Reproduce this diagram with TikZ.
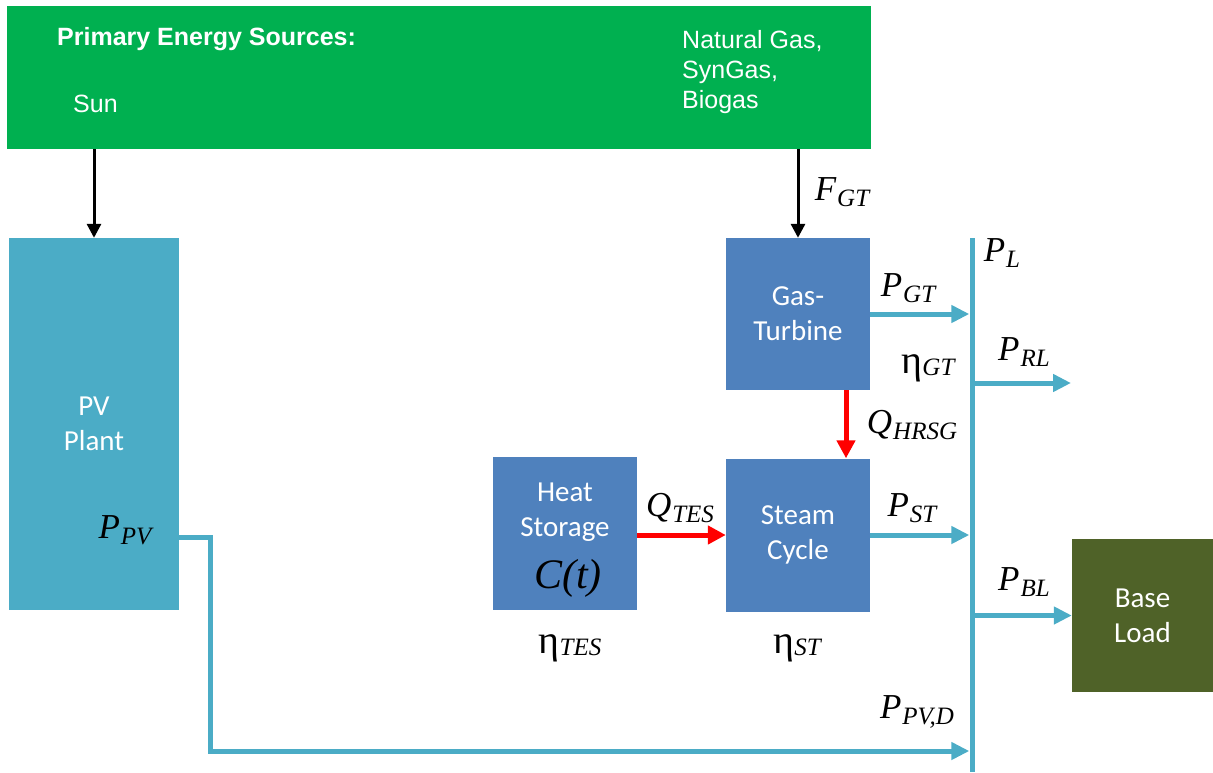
\documentclass[tikz,border=0pt]{standalone}
\usepackage{fontspec}
\setmainfont{Carlito}
\newfontfamily\arialfont{Liberation Sans}
\newfontfamily\symfont{Liberation Serif}
\usetikzlibrary{arrows.meta}

\definecolor{srcgreen}{HTML}{00B050}
\definecolor{pvcyan}{HTML}{4BACC6}
\definecolor{unitblue}{HTML}{4F81BD}
\definecolor{loadolive}{HTML}{4F6228}
\definecolor{heatred}{HTML}{FF0000}

% quantity symbol with a lowered subscript
\newcommand\vsym[2]{{\symfont\itshape #1\kern1pt\raisebox{-6pt}{\fontsize{25}{25}\selectfont #2}}}
% efficiency symbol: upright eta, italic subscript
\newcommand\veff[1]{{\symfont{\fontsize{40}{40}\selectfont η}\raisebox{-2pt}{\itshape\fontsize{25}{25}\selectfont #1}}}

\begin{document}
\begin{tikzpicture}[x=1pt,y=-1pt,
  unit/.style={draw=none, inner sep=0pt, align=center, text=white,
    font=\fontsize{29}{35}\selectfont},
  srctext/.style={inner sep=0pt, text=white, align=left,
    font=\arialfont\fontsize{25}{30}\selectfont},
  qlabel/.style={inner sep=0pt, text=black, font=\fontsize{35}{36}\selectfont},
  fuelarrow/.style={draw=black, line width=3pt,
    -{Triangle[length=14pt,width=14pt]}},
  heatarrow/.style={draw=heatred, line width=5pt,
    -{Triangle[length=18pt,width=18pt]}},
  powerline/.style={draw=pvcyan, line width=5pt},
  powerarrow/.style={powerline,
    -{Triangle[length=18pt,width=17pt]}},
]
\useasboundingbox (0,0) rectangle (1213,772);

% energy sources bar
\node[fill=srcgreen, draw=none, minimum width=864pt, minimum height=143pt, inner sep=0pt]
  (src) at (439,77.5) {};
\node[srctext, anchor=base west, font=\arialfont\bfseries\fontsize{25}{30}\selectfont]
  (srctitle) at (57,45) {Primary Energy Sources:};
\node[srctext, anchor=base west] (sun) at (73,112) {Sun};
\node[srctext, anchor=north west] (gas) at (682,30) {Natural Gas,\\SynGas,\\Biogas};

% plant units
\node[unit, fill=pvcyan, minimum width=170pt, minimum height=372pt] (pv) at (94,424) {PV\\Plant};
\node[unit, fill=unitblue, minimum width=144pt, minimum height=152pt] (gt) at (798,314) {Gas-\\Turbine};
\node[unit, fill=unitblue, minimum width=144pt, minimum height=153pt] (sc) at (798,535) {Steam\\Cycle};
\node[unit, fill=unitblue, minimum width=144pt, minimum height=153pt] (hs) at (565,533.5) {};
\node[unit, anchor=north] (hstext) at (565,483) {Heat\\Storage};
\node[qlabel, text=black, font=\fontsize{42}{42}\selectfont] (cap) at (568,578) {{\symfont\itshape C(t)}};
\node[unit, fill=loadolive, minimum width=141pt, minimum height=153pt] (bl) at (1142.5,615.5) {Base\\Load};

% electrical bus
\node[fill=pvcyan, draw=none, inner sep=0pt, minimum width=5pt, minimum height=534pt] (bus) at (972,505) {};

% fuel supply
\draw[fuelarrow] (pv.north |- src.south) -- (pv.north);
\draw[fuelarrow] (gt.north |- src.south) -- (gt.north);

% heat flows
\draw[heatarrow] ([xshift=48pt]gt.south) -- ([xshift=48pt]sc.north);
\draw[heatarrow] (hs.east |- 0,535) -- (sc.west |- 0,535);

% power flows
\coordinate (rlend) at (1071,383);
\coordinate (pvout) at (pv.east |- 0,537);
\coordinate (pvbend) at (210,537);
\coordinate (pvdown) at (210,751);
\draw[powerarrow] (gt.east) -- (gt.east -| bus.west);
\draw[powerarrow] (sc.east |- 0,535) -- (bus.west |- 0,535);
\draw[powerarrow] (bus.east |- rlend) -- (rlend);
\draw[powerarrow] (bus.east |- bl.west) -- (bl.west);
\draw[powerarrow, line join=miter] (pvout) -- (pvbend) -- (pvdown) -- (bus.west |- pvdown);

% labels
\node[qlabel] (lfgt) at (842,192) {\vsym{F}{GT}};
\node[qlabel] (lpgt) at (908,288) {\vsym{P}{GT}};
\node[qlabel] (lpl) at (1002,253) {\vsym{P}{L}};
\node[qlabel] (letagt) at (928,368) {\veff{GT}};
\node[qlabel] (lprl) at (1024,352) {\vsym{P}{RL}};
\node[qlabel] (lqhrsg) at (912,425) {\vsym{Q}{HRSG}};
\node[qlabel] (lqtes) at (680,508) {\vsym{Q}{TES}};
\node[qlabel] (lpst) at (912,508) {\vsym{P}{ST}};
\node[qlabel] (lpbl) at (1024,582) {\vsym{P}{BL}};
\node[qlabel] (lppvd) at (917,712) {\vsym{P}{PV,D}};
\node[qlabel] (lppv) at (125,530) {\vsym{P}{PV}};
\node[qlabel] (letates) at (570,648) {\veff{TES}};
\node[qlabel] (letast) at (797,648) {\veff{ST}};
\end{tikzpicture}
\end{document}
